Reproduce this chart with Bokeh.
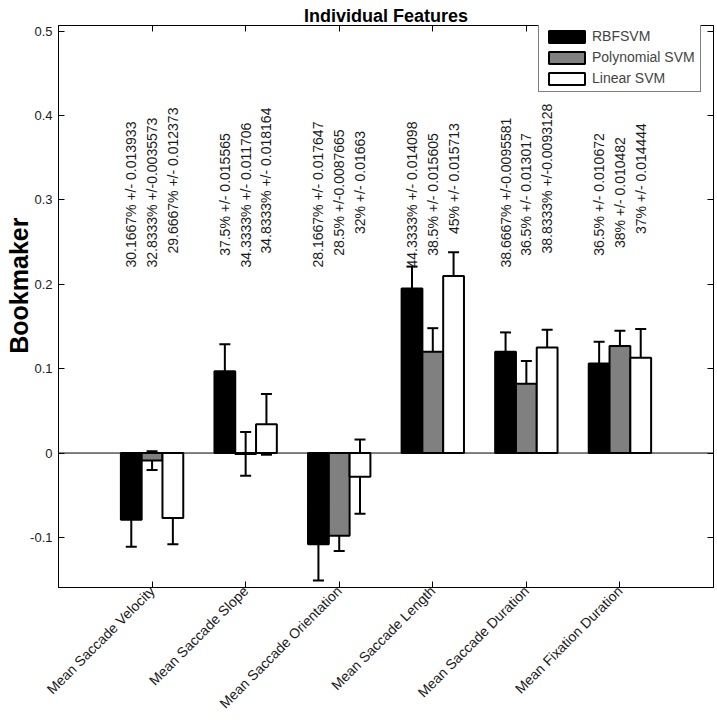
import numpy as np
from math import pi
from bokeh.plotting import figure
from bokeh.models import (ColumnDataSource, FixedTicker, LinearAxis, Range1d, Span,
                          Whisker, TeeHead, CustomJSTickFormatter)
from bokeh.core.properties import value
from bokeh.embed import file_html
from bokeh.resources import INLINE

# ---------------- data ----------------
features = ["Mean Saccade Velocity", "Mean Saccade Slope", "Mean Saccade Orientation",
            "Mean Saccade Length", "Mean Saccade Duration", "Mean Fixation Duration"]
series_names = ["RBFSVM", "Polynomial SVM", "Linear SVM"]

rbf_mean = [-0.079, 0.097, -0.108, 0.195, 0.120, 0.106]
rbf_err = [0.032, 0.032, 0.043, 0.026, 0.023, 0.026]
poly_mean = [-0.009, -0.001, -0.098, 0.120, 0.082, 0.127]
poly_err = [0.011, 0.026, 0.018, 0.028, 0.027, 0.018]
lin_mean = [-0.077, 0.034, -0.028, 0.210, 0.125, 0.113]
lin_err = [0.031, 0.036, 0.044, 0.028, 0.021, 0.034]

rbf_acc = ["30.1667", "37.5", "28.1667", "44.3333", "38.6667", "36.5"]
rbf_sd = ["0.013933", "0.015565", "0.017647", "0.014098", "0.0095581", "0.010672"]
poly_acc = ["32.8333", "34.3333", "28.5", "38.5", "36.5", "38"]
poly_sd = ["0.0035573", "0.011706", "0.0087665", "0.015605", "0.013017", "0.010482"]
lin_acc = ["29.6667", "34.8333", "32", "45", "38.8333", "37"]
lin_sd = ["0.012373", "0.018164", "0.01663", "0.015713", "0.0093128", "0.014444"]

y_ticks = [-0.1, 0, 0.1, 0.2, 0.3, 0.4, 0.5]
x_ticks = [1, 2, 3, 4, 5, 6]

# ---------------- style / layout ----------------
FONT = "Liberation Sans"
Y0, Y1 = -0.1594, 0.5068
FRAME_H = 562
PX_PER_UNIT = FRAME_H / (Y1 - Y0)
BAR_W = 0.2222
offsets = [-BAR_W, 0.0, BAR_W]
fills = ["#000000", "#808080", "#ffffff"]
text_base = [0.2199, 0.2199, 0.2365]
TXT_SIZE = 14

p = figure(width=717, height=720, output_backend="svg", toolbar_location=None,
           x_range=Range1d(0, 7), y_range=Range1d(Y0, Y1),
           min_border_left=58, min_border_right=4, min_border_top=25,
           min_border_bottom=133, x_axis_type=None, y_axis_type=None)
p.background_fill_color = "white"
p.border_fill_color = "white"
p.outline_line_color = "black"
p.outline_line_width = 1

p.title.text = "Individual Features"
p.title.align = "center"
p.title.text_font = FONT
p.title.text_font_size = "18px"
p.title.text_font_style = "bold"
p.title.text_color = "black"
p.title.standoff = 0
p.title.offset = 0

empty_fmt = CustomJSTickFormatter(code="return ''")
yfmt = CustomJSTickFormatter(code="return tick == 0 ? '0' : tick.toFixed(1)")
xfmt = CustomJSTickFormatter(args=dict(labels=features),
                             code="return labels[Math.round(tick) - 1] || ''")


def make_axis(ticks, fmt, standoff):
    ax = LinearAxis(ticker=FixedTicker(ticks=ticks), formatter=fmt)
    ax.major_tick_in = 6
    ax.major_tick_out = 0
    ax.minor_tick_line_color = None
    ax.axis_line_color = "black"
    ax.major_tick_line_color = "black"
    ax.major_label_standoff = standoff
    ax.major_label_text_font = FONT
    ax.major_label_text_font_size = "13px"
    ax.major_label_text_color = "#1a1a1a"
    return ax


yax = make_axis(y_ticks, yfmt, 6)
yax.axis_label = "\u00a0" * 6 + "Bookmaker"
yax.axis_label_text_font = FONT
yax.axis_label_text_font_size = "25px"
yax.axis_label_text_font_style = "bold"
yax.axis_label_text_color = "black"
yax.axis_label_standoff = -6
p.add_layout(yax, "left")

xax = make_axis(x_ticks, xfmt, 1)
xax.major_label_orientation = pi / 4
xax.major_label_text_font_size = "14px"
p.add_layout(xax, "below")

p.add_layout(make_axis(y_ticks, empty_fmt, 0), "right")
p.add_layout(make_axis(x_ticks, empty_fmt, 0), "above")

p.xgrid.visible = False
p.ygrid.ticker = FixedTicker(ticks=y_ticks)
p.ygrid.grid_line_color = "#333333"
p.ygrid.grid_line_dash = "1 3"
p.ygrid.grid_line_width = 1

groups = np.array(x_ticks, dtype=float)
means = [rbf_mean, poly_mean, lin_mean]
errs = [rbf_err, poly_err, lin_err]
accs = [rbf_acc, poly_acc, lin_acc]
sds = [rbf_sd, poly_sd, lin_sd]

pad_unit = 0.278 * TXT_SIZE / PX_PER_UNIT

for i in range(3):
    m = np.array(means[i])
    e = np.array(errs[i])
    xs = groups + offsets[i]
    labels = [f"{a}% +/-{s.rjust(9)}" for a, s in zip(accs[i], sds[i])]
    ty = [text_base[i] + (7 - len(a)) * pad_unit for a in accs[i]]
    src = ColumnDataSource(dict(x=xs, top=m, upper=m + e, lower=m - e,
                                ty=ty, label=labels))
    p.vbar(x="x", top="top", bottom=0, width=BAR_W, source=src,
           fill_color=fills[i], line_color="black", line_width=2,
           legend_label=series_names[i])
    p.add_layout(Whisker(source=src, base="x", upper="upper", lower="lower",
                         line_color="black", line_width=2,
                         upper_head=TeeHead(size=11, line_width=2, line_color="black"),
                         lower_head=TeeHead(size=11, line_width=2, line_color="black")))
    p.text(x="x", y="ty", text="label", source=src, angle=pi / 2,
           text_align="left", text_baseline="middle",
           text_font=value(FONT), text_font_size=f"{TXT_SIZE}px", text_color="#1a1a1a")

p.add_layout(Span(location=0, dimension="width", line_color="black", line_width=1))

leg = p.legend[0]
leg.location = (480, 495)
leg.glyph_width = 45
leg.glyph_height = 15
leg.label_height = 15
leg.label_standoff = 3
leg.spacing = 5
leg.padding = 5
leg.margin = 0
leg.label_text_font = FONT
leg.label_text_font_size = "14px"
leg.border_line_color = "black"
leg.border_line_width = 1
leg.background_fill_alpha = 1.0

open("out.html", "w").write(file_html(p, INLINE))
